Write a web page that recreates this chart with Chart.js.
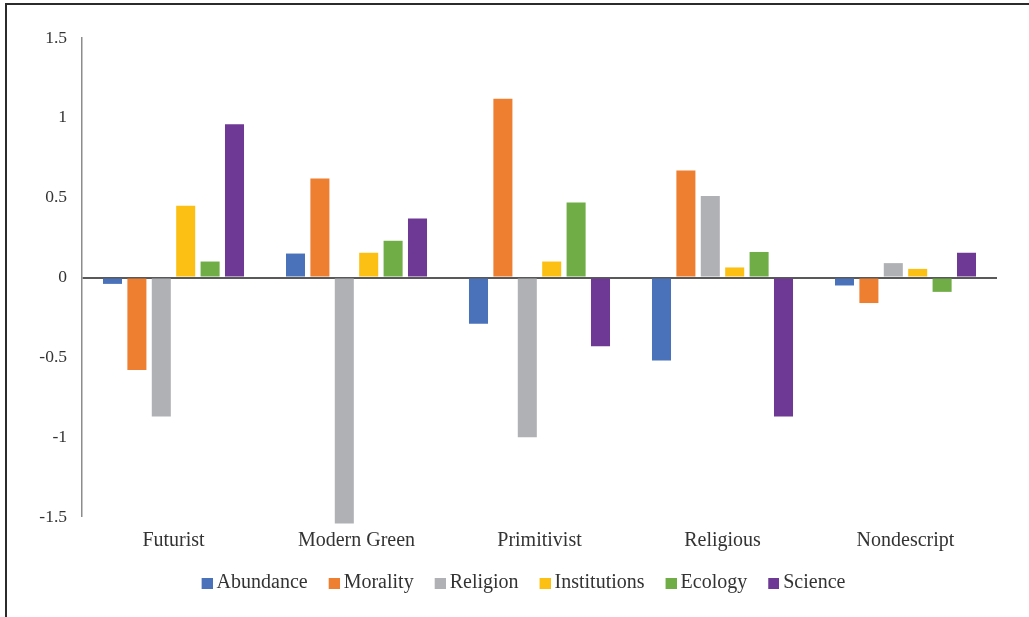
<!DOCTYPE html>
<html>
<head>
<meta charset="utf-8">
<title>Scenario scores</title>
<script src="https://cdn.jsdelivr.net/npm/chart.js@4/dist/chart.umd.min.js"></script>
<style>
  html, body { margin: 0; padding: 0; background: #fff; }
  #wrap { position: relative; width: 1029px; height: 617px; overflow: hidden; }
  #frame {
    position: absolute; left: 5px; top: 3px; width: 1030px; height: 700px;
    border-left: 2px solid #2b2b2b; border-top: 2px solid #2b2b2b;
    pointer-events: none;
  }
  canvas { position: absolute; left: 0; top: 0; }
</style>
</head>
<body>
<div id="wrap">
  <canvas id="chart" width="1029" height="617"></canvas>
  <div id="frame"></div>
</div>
<script>
// categories and series
const categories = ['Futurist', 'Modern Green', 'Primitivist', 'Religious', 'Nondescript'];
const seriesNames = ['Abundance', 'Morality', 'Religion', 'Institutions', 'Ecology', 'Science'];
const seriesColors = ['#4a72ba', '#ee7f31', '#b0b1b5', '#fcc014', '#70ad47', '#6e3895'];

const abundance    = [-0.04,  0.15, -0.29, -0.52, -0.05];
const morality     = [-0.58,  0.62,  1.12,  0.67, -0.16];
const religion     = [-0.87, -1.54, -1.00,  0.51,  0.09];
const institutions = [ 0.45,  0.155, 0.10,  0.063, 0.054];
const ecology      = [ 0.10,  0.23,  0.47,  0.16, -0.09];
const science      = [ 0.96,  0.37, -0.43, -0.87,  0.155];

const yTicks = [-1.5, -1, -0.5, 0, 0.5, 1, 1.5];

const seriesValues = [abundance, morality, religion, institutions, ecology, science];

// small legend swatch, shifted right so it sits close to its label
function makeSwatch(color) {
    const c = document.createElement('canvas');
    c.width = 23;
    c.height = 11;
    const g = c.getContext('2d');
    g.fillStyle = color;
    g.fillRect(12, 0, 11, 11);
    return c;
}

const datasets = seriesNames.map(function(name, i) {
    return {
        label: name,
        data: seriesValues[i],
        backgroundColor: seriesColors[i],
        borderWidth: 0,
        barPercentage: 0.78,
        categoryPercentage: 0.8,
        clip: false
    };
});

const serif = "'Liberation Serif', 'Times New Roman', serif";

// the legend in the original sits a bit right of the canvas centre
const legendNudge = {
    id: 'legendNudge',
    afterLayout: function(chart) {
        if (chart.legend) {
            chart.legend.left += 22;
            chart.legend.right += 22;
        }
    }
};

new Chart(document.getElementById('chart').getContext('2d'), {
    type: 'bar',
    data: { labels: categories, datasets: datasets },
    plugins: [legendNudge],
    options: {
        responsive: false,
        animation: false,
        layout: { padding: { top: 38, right: 32, left: 0, bottom: 14 } },
        plugins: {
            tooltip: { enabled: false },
            legend: {
                position: 'bottom',
                labels: {
                    font: { family: serif, size: 20 },
                    color: '#333',
                    usePointStyle: true,
                    boxWidth: 11,
                    boxHeight: 11,
                    padding: 15,
                    generateLabels: function(chart) {
                        const items = Chart.defaults.plugins.legend.labels.generateLabels(chart);
                        items.forEach(function(item, i) {
                            item.pointStyle = makeSwatch(seriesColors[i]);
                        });
                        return items;
                    }
                }
            }
        },
        scales: {
            x: {
                grid: { display: false, drawTicks: false },
                border: { display: false },
                ticks: {
                    font: { family: serif, size: 20 },
                    color: '#333',
                    padding: 12,
                    maxRotation: 0
                },
                afterFit: function(scale) { scale.height = 41; }
            },
            y: {
                min: -1.5,
                max: 1.5,
                afterBuildTicks: function(scale) {
                    scale.ticks = yTicks.map(function(v) { return { value: v }; });
                },
                grid: {
                    drawTicks: false,
                    color: function(ctx) {
                        return ctx.tick && ctx.tick.value === 0 ? '#595959' : 'rgba(0,0,0,0)';
                    },
                    lineWidth: function(ctx) {
                        return ctx.tick && ctx.tick.value === 0 ? 2 : 0;
                    }
                },
                border: { display: true, color: '#8c8c8c', width: 1.5 },
                ticks: {
                    font: { family: serif, size: 17.5 },
                    color: '#333',
                    padding: 15,
                    callback: function(v) { return String(v); }
                },
                afterFit: function(scale) { scale.width = 82; }
            }
        }
    }
});
</script>
</body>
</html>
